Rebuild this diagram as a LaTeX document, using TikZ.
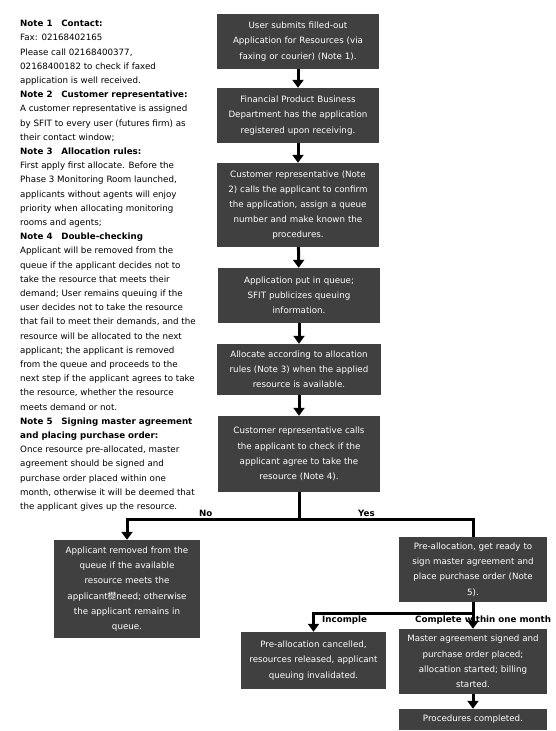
\documentclass[tikz,border=0pt]{standalone}
\usepackage{fontspec}
\setmainfont{DejaVu Sans}
\newfontfamily\cjk{Noto Sans CJK SC}
\usetikzlibrary{arrows.meta}
\definecolor{boxgray}{HTML}{404040}

\begin{document}
\begin{tikzpicture}[
  x=1pt, y=-1pt,
  proc/.style={fill=boxgray, text=white, minimum width=162pt, text width=160pt,
    align=center, inner sep=1pt, font=\fontsize{8.7}{15.2}\selectfont},
  notes/.style={align=left, inner sep=0pt, font=\fontsize{8.7}{14.2}\selectfont},
  lbl/.style={inner sep=0pt, font=\fontsize{8.7}{10}\selectfont\bfseries},
  flow/.style={draw, line width=3pt},
  flowarr/.style={draw, line width=3pt, -{Triangle[width=11pt,length=8pt]}}
]
\path[use as bounding box, fill=white] (0,0) rectangle (556,731);

\node[notes, anchor=north west] (notes) at (20,20) {%
\textbf{Note 1\quad Contact:}\\
Fax: 02168402165\\
Please call 02168400377,\\
02168400182 to check if faxed\\
application is well received.\\
\textbf{Note 2\quad Customer representative:}\\
A customer representative is assigned\\
by SFIT to every user (futures firm) as\\
their contact window;\\
\textbf{Note 3\quad Allocation rules:}\\
First apply first allocate. Before the\\
Phase 3 Monitoring Room launched,\\
applicants without agents will enjoy\\
priority when allocating monitoring\\
rooms and agents;\\
\textbf{Note 4\quad Double-checking}\\
Applicant will be removed from the\\
queue if the applicant decides not to\\
take the resource that meets their\\
demand; User remains queuing if the\\
user decides not to take the resource\\
that fail to meet their demands, and the\\
resource will be allocated to the next\\
applicant; the applicant is removed\\
from the queue and proceeds to the\\
next step if the applicant agrees to take\\
the resource, whether the resource\\
meets demand or not.\\
\textbf{Note 5\quad Signing master agreement}\\
\textbf{and placing purchase order:}\\
Once resource pre-allocated, master\\
agreement should be signed and\\
purchase order placed within one\\
month, otherwise it will be deemed that\\
the applicant gives up the resource.};

\node[proc, minimum height=55pt] (submit) at (298,41.5)
  {User submits filled-out\\Application for Resources (via\\faxing or courier) (Note 1).};
\node[proc, minimum height=55pt] (register) at (298,115.5)
  {Financial Product Business\\Department has the application\\registered upon receiving.};
\node[proc, minimum height=84pt] (confirm) at (298,205)
  {Customer representative (Note\\2) calls the applicant to confirm\\the application, assign a queue\\number and make known the\\procedures.};
\node[proc, minimum height=55pt] (queue) at (299,295.5)
  {Application put in queue;\\SFIT publicizes queuing\\information.};
\node[proc, minimum height=51pt, minimum width=164pt] (allocate) at (299,369.5)
  {Allocate according to allocation\\rules (Note 3) when the applied\\resource is available.};
\node[proc, minimum height=76pt] (check) at (299,454)
  {Customer representative calls\\the applicant to check if the\\applicant agree to take the\\resource (Note 4).};
\node[proc, minimum width=146pt, text width=144pt, minimum height=98pt] (removed) at (127,589)
  {Applicant removed from the\\queue if the available\\resource meets the\\applicant{\cjk 檚}need; otherwise\\the applicant remains in\\queue.};
\node[proc, minimum width=148pt, text width=146pt, minimum height=65pt] (prealloc) at (473,569.5)
  {Pre-allocation, get ready to\\sign master agreement and\\place purchase order (Note\\5).};
\node[proc, minimum width=145pt, text width=143pt, minimum height=57pt] (cancel) at (313.5,660.5)
  {Pre-allocation cancelled,\\resources released, applicant\\queuing invalidated.};
\node[proc, minimum width=148pt, text width=146pt, minimum height=65pt] (signed) at (473,661.5)
  {Master agreement signed and\\purchase order placed;\\allocation started; billing\\started.};
\node[proc, minimum width=148pt, text width=146pt, minimum height=21pt] (done) at (473,719.5)
  {Procedures completed.};

\node[lbl, anchor=base west] (nolbl) at (199,516) {No};
\node[lbl, anchor=base west] (yeslbl) at (358,516) {Yes};
\node[lbl, anchor=base west] (inclbl) at (322,622) {Incomple};
\node[lbl, anchor=base west] (complbl) at (415,622) {Complete within one month};

\coordinate (split) at (299,519);
\coordinate (nojoin) at (removed.north |- split);
\coordinate (yesjoin) at (prealloc.north |- split);
\coordinate (fork) at (473,613);
\coordinate (canjoin) at (cancel.north |- fork);

\draw[flowarr] (submit) -- (register);
\draw[flowarr] (register) -- (confirm);
\draw[flowarr] (confirm) -- (queue);
\draw[flowarr] (queue) -- (allocate);
\draw[flowarr] (allocate) -- (check);
\draw[flow] (check) -- (split);
\draw[flowarr] (prealloc.north) -- (yesjoin) -- (nojoin) -- (removed);
\draw[flowarr] (prealloc) -- (signed);
\draw[flowarr] (fork) -- (canjoin) -- (cancel);
\draw[flowarr] (signed) -- (done);
\end{tikzpicture}
\end{document}
